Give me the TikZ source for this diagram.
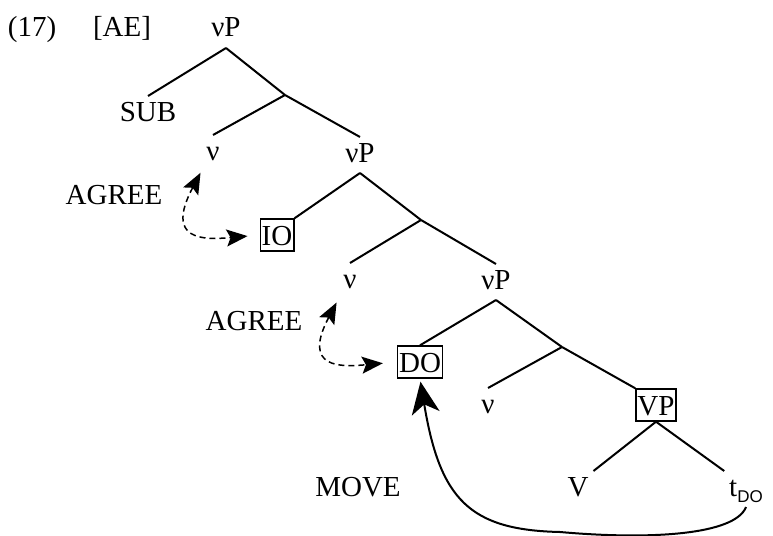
\documentclass[tikz,border=0pt]{standalone}
\usepackage{fontspec}
\setmainfont{Liberation Serif}
\setsansfont{Liberation Sans}
\usetikzlibrary{arrows.meta}
\begin{document}
\begin{tikzpicture}[x=1pt,y=-1pt,line width=2pt,
    lbl/.style={font=\fontsize{29}{35}\selectfont,text height=20pt,text depth=6pt,inner sep=4pt,anchor=base},
    boxed/.style={lbl,draw,line width=1.4pt,inner xsep=1.5pt,inner ysep=3pt,text height=23pt,text depth=3pt},
    agree/.style={line width=1.5pt,dash pattern=on 6pt off 4pt,{Stealth[length=21pt,width=17pt,inset=4pt]}-{Stealth[length=21pt,width=17pt,inset=4pt]}},
    move/.style={line width=2pt,-{Stealth[length=32pt,width=28pt,inset=9pt]}}]
  \useasboundingbox (0,0) rectangle (773,535);
  \node[lbl] (num)   at (32,37)   {(17)};
  \node[lbl] (ae)    at (122,37)  {[AE]};
  \node[lbl] (vp1)   at (226,37)  {νP};
  \node[lbl] (sub)   at (148,121) {SUB};
  \node[lbl] (v1)    at (213,160) {ν};
  \node[lbl] (vp2)   at (360,162) {νP};
  \node[lbl] (agr1)  at (114,204) {AGREE};
  \node[boxed] (io)  at (277,245) {IO};
  \node[lbl] (v2)    at (350,288) {ν};
  \node[lbl] (vp3)   at (496,289) {νP};
  \node[lbl] (agr2)  at (254,330) {AGREE};
  \node[boxed] (do)  at (420,372) {DO};
  \node[lbl] (v3)    at (488,413) {ν};
  \node[boxed] (vpb) at (656,415) {VP};
  \node[lbl] (vv)    at (578,496) {V};
  \node[lbl] (tdo)   at (746,496) {t\raisebox{-6pt}{\fontsize{17}{17}\selectfont\sffamily DO}};
  \node[lbl] (mv)    at (358,496) {MOVE};
  \coordinate (b1) at (285,95);
  \coordinate (b2) at (421,220);
  \coordinate (b3) at (562,347);
  \draw (vp1.south) -- (sub.north);
  \draw (vp1.south) -- (b1);
  \draw (b1) -- (v1.north);
  \draw (b1) -- (vp2.north);
  \draw (vp2.south) -- (io.north east);
  \draw (vp2.south) -- (b2);
  \draw (b2) -- (v2.north);
  \draw (b2) -- (vp3.north);
  \draw (vp3.south) -- (do.north);
  \draw (vp3.south) -- (b3);
  \draw (b3) -- (v3.north);
  \draw (b3) -- (vpb.north west);
  \draw (vpb.south) -- (vv.north east);
  \draw (vpb.south) -- (tdo.north west);
  \draw[agree,shorten <=2pt,shorten >=12pt] (v1.south west) .. controls +(-37,70) and +(-56,5) .. (io.west);
  \draw[agree,shorten <=4pt,shorten >=14pt] (v2.south west) .. controls +(-37,70) and +(-56,5) .. (do.west);
  \draw[move,shorten >=3pt] (tdo.south) .. controls (735,535) and (650,540) .. (560,532)
    .. controls (470,530) and (440,500) .. (do.south);
\end{tikzpicture}
\end{document}
